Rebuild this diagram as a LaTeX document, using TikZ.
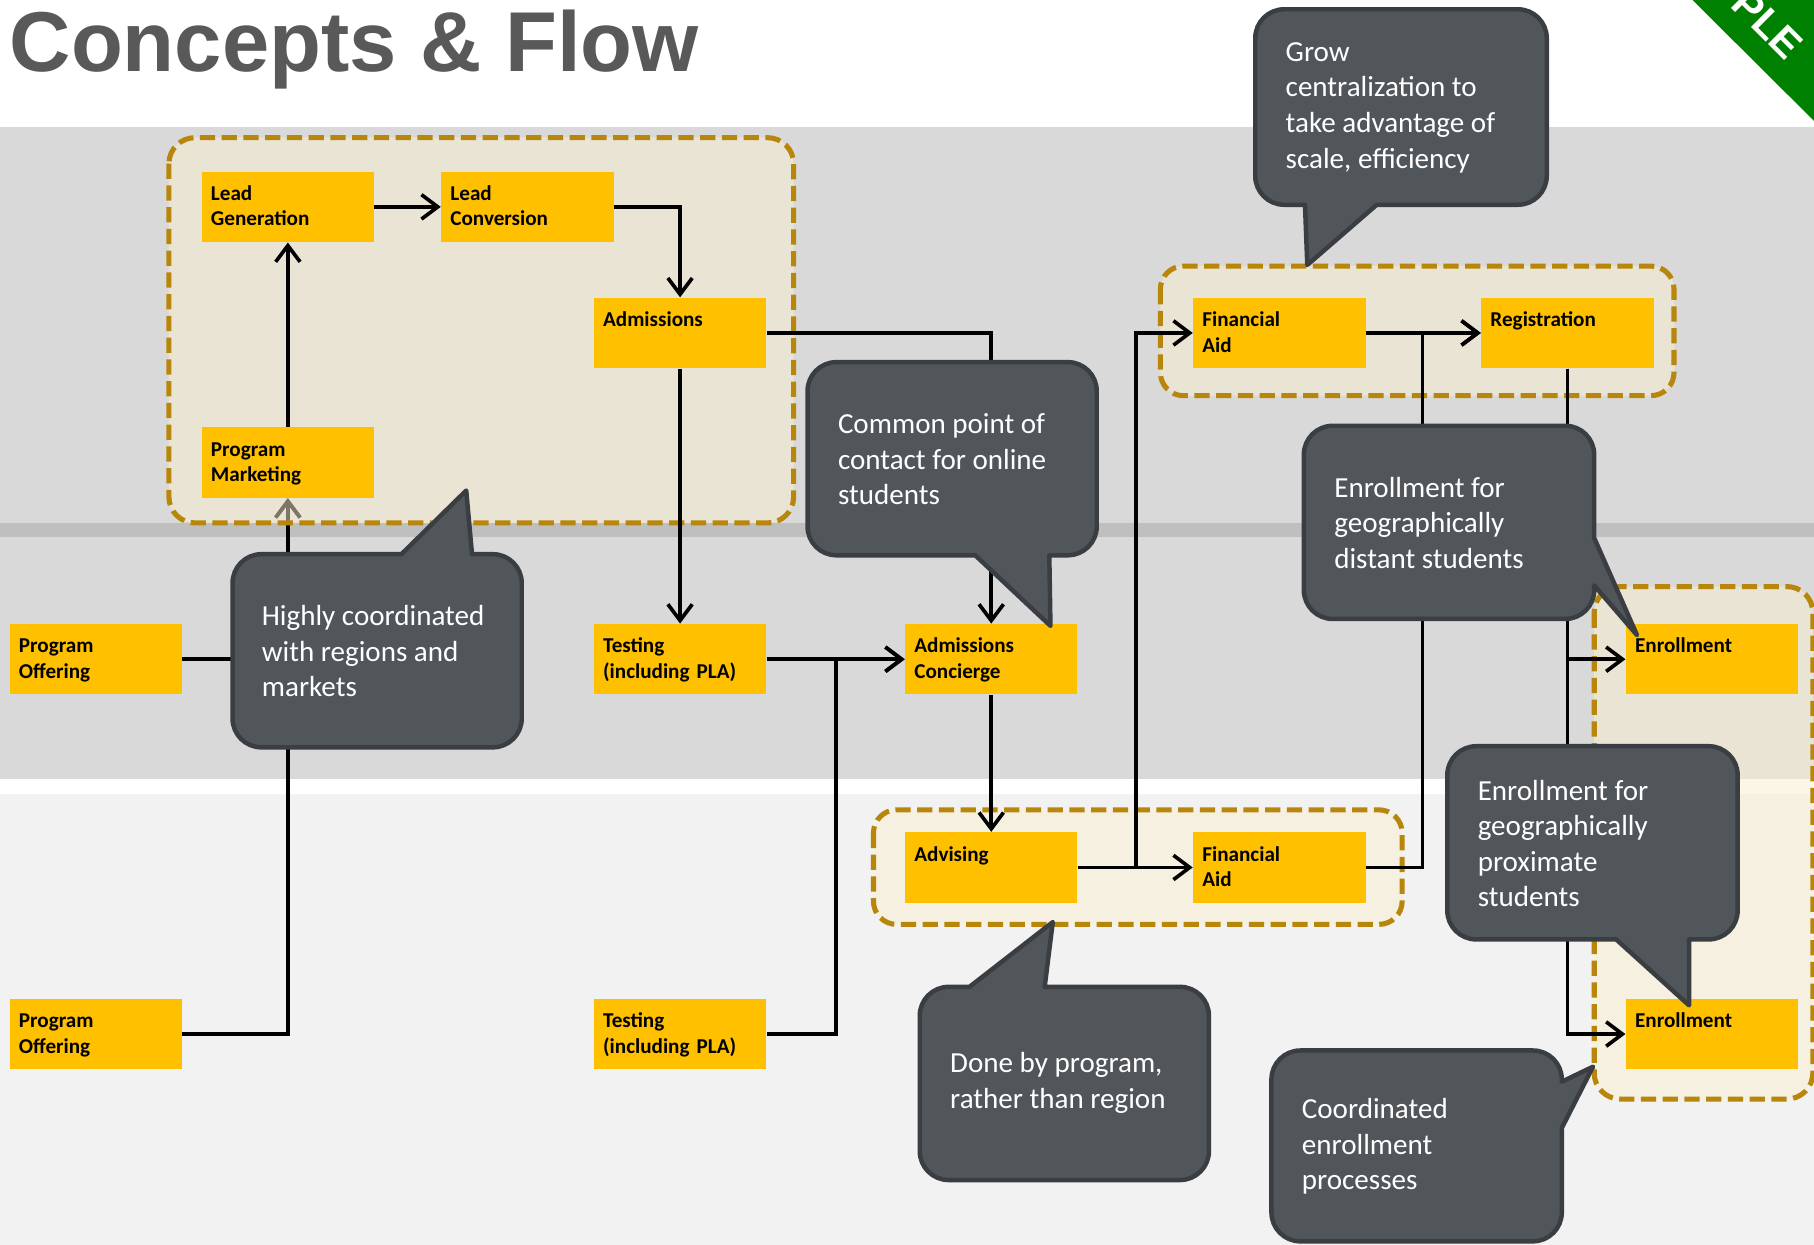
\documentclass[tikz,border=0pt]{standalone}
\usepackage{fontspec}
\setmainfont{Carlito}
\newfontfamily\headfont{Liberation Sans}
\usetikzlibrary{arrows.meta, positioning, calc}

\definecolor{boxyellow}{RGB}{255, 192, 0}
\definecolor{notegray}{RGB}{81, 86, 90}
\definecolor{noteedge}{RGB}{58, 62, 66}
\definecolor{groupgold}{RGB}{184, 134, 11}
\definecolor{groupfill}{RGB}{250, 239, 207}
\definecolor{bandgray}{RGB}{217, 217, 217}
\definecolor{stripgray}{RGB}{191, 191, 191}
\definecolor{lightband}{RGB}{242, 242, 242}
\definecolor{titlegray}{RGB}{89, 89, 89}
\definecolor{ribbongreen}{RGB}{0, 128, 0}

\pgfdeclarelayer{bands}
\pgfdeclarelayer{under}
\pgfdeclarelayer{groups}
\pgfsetlayers{bands,under,groups,main}

\tikzset{
  procbox/.style={fill=boxyellow, anchor=north west, inner xsep=0.16cm, inner ysep=0pt,
    text width=2.66cm, align=left, text height=14.2pt, text depth=20.48pt,
    font=\bfseries\fontsize{10.4pt}{12.5pt}\selectfont},
  note/.style={fill=notegray, draw=noteedge, line width=2.2pt, line join=round},
  notetext/.style={anchor=west, text=white, align=left, inner sep=0pt,
    font=\fontsize{14.3pt}{17.5pt}\selectfont},
  grp/.style={draw=groupgold, line width=2.5pt, dash pattern=on 7.5pt off 3.2pt,
    fill=groupfill, fill opacity=0.5, rounded corners=0.45cm},
  flow/.style={draw, line width=1.8pt, -{Straight Barb[length=8pt, width=12pt]}}
}

\begin{document}
\begin{tikzpicture}[x=0.02cm, y=-0.02cm]
  \useasboundingbox (0,0) rectangle (1568,1076);

  % Background bands
  \begin{pgfonlayer}{bands}
    \fill[white] (0,0) rectangle (1568,1076);
    \fill[bandgray] (0,110) rectangle (1568,452);
    \fill[stripgray] (0,452) rectangle (1568,464);
    \fill[bandgray] (0,464) rectangle (1568,673);
    \fill[lightband] (0,686) rectangle (1568,1076);
  \end{pgfonlayer}

  % Title and ribbon
  \node[font=\headfont\bfseries\fontsize{41.8pt}{46pt}\selectfont, text=titlegray, anchor=base west, inner sep=0pt] (title) at (8,62) {Concepts \& Flow};
  \fill[ribbongreen] (1463,0) -- (1568,104.5) -- (1568,0) -- cycle;
  \node[font=\headfont\bfseries\fontsize{20pt}{24pt}\selectfont, text=white, rotate=-45, inner sep=0pt] (ribbon) at (1528,21) {PLE};

  % Process steps
  \node[procbox] (leadgen) at (174,148) {Lead\\Generation};
  \node[procbox] (leadconv) at (381,148) {Lead\\Conversion};
  \node[procbox] (admissions) at (513,257) {Admissions};
  \node[procbox] (progmkt) at (174,369) {Program\\Marketing};
  \node[procbox] (progoffA) at (8,539) {Program\\Offering};
  \node[procbox] (progoffB) at (8,863) {Program\\Offering};
  \node[procbox] (testA) at (513,539) {Testing\\(including PLA)};
  \node[procbox] (testB) at (513,863) {Testing\\(including PLA)};
  \node[procbox] (concierge) at (782,539) {Admissions\\Concierge};
  \node[procbox] (advising) at (782,719) {Advising};
  \node[procbox] (finaidA) at (1031,257) {Financial\\Aid};
  \node[procbox] (finaidB) at (1031,719) {Financial\\Aid};
  \node[procbox] (registration) at (1280,257) {Registration};
  \node[procbox] (enrollA) at (1405,539) {Enrollment};
  \node[procbox] (enrollB) at (1405,863) {Enrollment};

  % Groups
  \begin{pgfonlayer}{groups}
    \path[grp] (146,119) rectangle (686,452);
    \path[grp, rounded corners=0.4cm] (1003,230) rectangle (1447,342);
    \path[grp, rounded corners=0.4cm] (755,700) rectangle (1212,799);
    \path[grp] (1378,507) rectangle (1567,950);
  \end{pgfonlayer}

  % Flow
  \begin{pgfonlayer}{under}
    \draw[flow] (progoffA.east) -| (progmkt.south);
    \draw[flow] (progoffB.east) -| (progmkt.south);
  \end{pgfonlayer}
  \draw[flow] (progmkt.north) -- (leadgen.south);
  \draw[flow] (leadgen.east) -- (leadconv.west);
  \draw[flow] (leadconv.east) -| (admissions.north);
  \draw[flow] (admissions.south) -- (testA.north);
  \draw[flow] (admissions.east) -| (concierge.north);
  \draw[flow] (testA.east) -- (concierge.west);
  \draw[flow] (testB.east) -- ++(60,0) |- (concierge.west);
  \draw[flow] (concierge.south) -- (advising.north);
  \draw[flow] (advising.east) -- (finaidB.west);
  \draw[flow] (advising.east) -- ++(50,0) |- (finaidA.west);
  \draw[flow] (finaidA.east) -- (registration.west);
  \draw[flow] (finaidB.east) -- ++(49,0) |- (registration.west);
  \draw[flow] (registration.south) |- (enrollA.west);
  \draw[flow] (registration.south) |- (enrollB.west);

  % Callouts
  \draw[note] (1085,92) [rounded corners=0.5cm] -- (1085,8) -- (1337,8) -- (1337,177) [sharp corners] -- (1190,177) -- (1130,229) -- (1128,177) [rounded corners=0.5cm] -- (1085,177) -- cycle;
  \node[notetext] (scalenote) at (1111,93) {Grow\\centralization to\\take advantage of\\scale, efficiency};

  \draw[note] (698,396) [rounded corners=0.5cm] -- (698,313) -- (948,313) -- (948,480) [sharp corners] -- (907,480) -- (908,541) -- (843,480) [rounded corners=0.5cm] -- (698,480) -- cycle;
  \node[notetext] (onlinenote) at (724,397) {Common point of\\contact for online\\students};

  \draw[note] (201,562) [rounded corners=0.5cm] -- (201,479) [sharp corners] -- (347,479) -- (403,424) -- (408,479) [rounded corners=0.5cm] -- (451,479) -- (451,646) -- (201,646) -- cycle;
  \node[notetext] (regionnote) at (226,563) {Highly coordinated\\with regions and\\markets};

  \draw[note] (1127,452) [rounded corners=0.5cm] -- (1127,368) -- (1378,368) [sharp corners] -- (1378,465) -- (1415,549) -- (1378,506) [rounded corners=0.5cm] -- (1378,535) -- (1127,535) -- cycle;
  \node[notetext] (distantnote) at (1153,452) {Enrollment for\\geographically\\distant students};

  \draw[note] (1251,728) [rounded corners=0.5cm] -- (1251,645) -- (1502,645) -- (1502,812) [sharp corners] -- (1460,812) -- (1460,869) -- (1397,812) [rounded corners=0.5cm] -- (1251,812) -- cycle;
  \node[notetext] (proximatenote) at (1277,729) {Enrollment for\\geographically\\proximate\\students};

  \draw[note] (795,936) [rounded corners=0.5cm] -- (795,853) [sharp corners] -- (838,853) -- (910,797) -- (903,853) [rounded corners=0.5cm] -- (1045,853) -- (1045,1020) -- (795,1020) -- cycle;
  \node[notetext] (programnote) at (821,936) {Done by program,\\rather than region};

  \draw[note] (1099,990) [rounded corners=0.5cm] -- (1099,908) -- (1350,908) [sharp corners] -- (1350,935) -- (1377,922) -- (1350,975) [rounded corners=0.5cm] -- (1350,1073) -- (1099,1073) -- cycle;
  \node[notetext] (enrollnote) at (1125,991) {Coordinated\\enrollment\\processes};
\end{tikzpicture}
\end{document}
